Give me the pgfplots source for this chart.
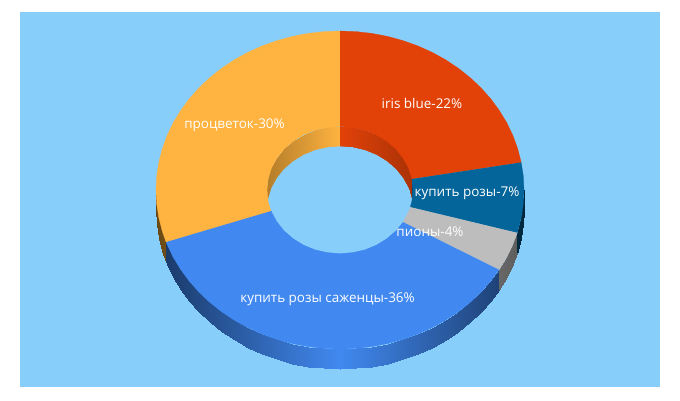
\documentclass[border=0pt]{standalone}
\usepackage{pgfplots}
\usepackage{fontspec}
\setmainfont{Open Sans}
\pgfplotsset{compat=1.18}
\definecolor{panel}{RGB}{135,206,250}
\definecolor{cred}{RGB}{226,66,8}
\definecolor{cdark}{RGB}{3,101,154}
\definecolor{cgrey}{RGB}{189,189,189}
\definecolor{cblue}{RGB}{65,137,240}
\definecolor{corange}{RGB}{255,179,64}
\pgfplotsset{
 colormap={mblue}{rgb255=(65,137,240) rgb255=(25,55,100)},
 colormap={morange}{rgb255=(255,179,64) rgb255=(105,72,20)},
 colormap={mgrey}{rgb255=(189,189,189) rgb255=(90,90,90)},
 colormap={mdark}{rgb255=(3,101,154) rgb255=(1,40,62)},
 colormap={mred}{rgb255=(226,66,8) rgb255=(113,33,4)},
}
\begin{document}
\begin{tikzpicture}
\begin{axis}[scale only axis,width=510pt,height=300pt,hide axis,
 xmin=0,xmax=680,ymin=0,ymax=400,y dir=reverse,enlargelimits=false,clip=true,
 point meta min=0,point meta max=1]
\addplot[fill=white,draw=none] coordinates {(0,0)(680,0)(680,400)(0,400)};
\addplot[fill=panel,draw=none] coordinates {(20,12)(660,12)(660,387)(20,387)};
% outer side: orange
\addplot[patch,patch type=rectangle,shader=interp,point meta=explicit,colormap name=morange] coordinates {
(166,241.8)[.946] (167.1,244.4)[.94] (167.1,264.4)[.94] (166,261.8)[.946]
(166,241.8)[.946] (162.3,231.2)[.966] (162.3,251.2)[.966] (166,261.8)[.946]
(162.3,231.2)[.966] (158.8,217.6)[.985] (158.8,237.6)[.985] (162.3,251.2)[.966]
(158.8,217.6)[.985] (156.7,203.9)[.996] (156.7,223.9)[.996] (158.8,237.6)[.985]
(156.7,203.9)[.996] (156,190)[1] (156,210)[1] (156.7,223.9)[.996]
};
% outer side: blue
\addplot[patch,patch type=rectangle,shader=interp,point meta=explicit,colormap name=mblue] coordinates {
(499.3,269.5)[.866] (490.7,281.2)[.819] (490.7,301.2)[.819] (499.3,289.5)[.866]
(490.7,281.2)[.819] (480.9,292.2)[.766] (480.9,312.2)[.766] (490.7,301.2)[.819]
(480.9,292.2)[.766] (470.1,302.4)[.707] (470.1,322.4)[.707] (480.9,312.2)[.766]
(470.1,302.4)[.707] (458.3,311.8)[.643] (458.3,331.8)[.643] (470.1,322.4)[.707]
(458.3,311.8)[.643] (445.5,320.3)[.574] (445.5,340.3)[.574] (458.3,331.8)[.643]
(445.5,320.3)[.574] (432,327.7)[.5] (432,347.7)[.5] (445.5,340.3)[.574]
(432,327.7)[.5] (417.8,334.1)[.423] (417.8,354.1)[.423] (432,347.7)[.5]
(417.8,334.1)[.423] (402.9,339.4)[.342] (402.9,359.4)[.342] (417.8,354.1)[.423]
(402.9,339.4)[.342] (387.6,343.6)[.259] (387.6,363.6)[.259] (402.9,359.4)[.342]
(387.6,343.6)[.259] (371.9,346.6)[.174] (371.9,366.6)[.174] (387.6,363.6)[.259]
(371.9,346.6)[.174] (356,348.4)[.087] (356,368.4)[.087] (371.9,366.6)[.174]
(356,348.4)[.087] (340,349)[0] (340,369)[0] (356,368.4)[.087]
(340,349)[0] (324,348.4)[.087] (324,368.4)[.087] (340,369)[0]
(324,348.4)[.087] (308.1,346.6)[.174] (308.1,366.6)[.174] (324,368.4)[.087]
(308.1,346.6)[.174] (292.4,343.6)[.259] (292.4,363.6)[.259] (308.1,366.6)[.174]
(292.4,343.6)[.259] (277.1,339.4)[.342] (277.1,359.4)[.342] (292.4,363.6)[.259]
(277.1,339.4)[.342] (262.2,334.1)[.423] (262.2,354.1)[.423] (277.1,359.4)[.342]
(262.2,334.1)[.423] (248,327.7)[.5] (248,347.7)[.5] (262.2,354.1)[.423]
(248,327.7)[.5] (234.5,320.3)[.574] (234.5,340.3)[.574] (248,347.7)[.5]
(234.5,320.3)[.574] (221.7,311.8)[.643] (221.7,331.8)[.643] (234.5,340.3)[.574]
(221.7,311.8)[.643] (209.9,302.4)[.707] (209.9,322.4)[.707] (221.7,331.8)[.643]
(209.9,302.4)[.707] (199.1,292.2)[.766] (199.1,312.2)[.766] (209.9,322.4)[.707]
(199.1,292.2)[.766] (189.3,281.2)[.819] (189.3,301.2)[.819] (199.1,312.2)[.766]
(189.3,281.2)[.819] (180.7,269.5)[.866] (180.7,289.5)[.866] (189.3,301.2)[.819]
(180.7,269.5)[.866] (173.2,257.2)[.906] (173.2,277.2)[.906] (180.7,289.5)[.866]
(173.2,257.2)[.906] (167.1,244.4)[.94] (167.1,264.4)[.94] (173.2,277.2)[.906]
(167.1,244.4)[.94] (166,241.8)[.946] (166,261.8)[.946] (167.1,264.4)[.94]
};
% outer side: grey
\addplot[patch,patch type=rectangle,shader=interp,point meta=explicit,colormap name=mgrey] coordinates {
(517.2,232.8)[.963] (512.9,244.4)[.94] (512.9,264.4)[.94] (517.2,252.8)[.963]
(512.9,244.4)[.94] (506.8,257.2)[.906] (506.8,277.2)[.906] (512.9,264.4)[.94]
(506.8,257.2)[.906] (499.3,269.5)[.866] (499.3,289.5)[.866] (506.8,277.2)[.906]
};
% outer side: dark blue
\addplot[patch,patch type=rectangle,shader=interp,point meta=explicit,colormap name=mdark] coordinates {
(524,190)[1] (523.3,203.9)[.996] (523.3,223.9)[.996] (524,210)[1]
(523.3,203.9)[.996] (521.2,217.6)[.985] (521.2,237.6)[.985] (523.3,223.9)[.996]
(521.2,217.6)[.985] (517.7,231.2)[.966] (517.7,251.2)[.966] (521.2,237.6)[.985]
(517.7,231.2)[.966] (517.2,232.8)[.963] (517.2,252.8)[.963] (517.7,251.2)[.966]
};
% inner wall: orange
\addplot[patch,patch type=rectangle,shader=interp,point meta=explicit,colormap name=morange] coordinates {
(267,190)[.5] (268.1,179)[.492] (268.1,199)[.492] (267,210)[.5]
(268.1,179)[.492] (271.4,168.2)[.47] (271.4,188.2)[.47] (268.1,199)[.492]
(271.4,168.2)[.47] (276.8,158.2)[.433] (276.8,178.2)[.433] (271.4,188.2)[.47]
(276.8,158.2)[.433] (284.1,149.1)[.383] (284.1,169.1)[.383] (276.8,178.2)[.433]
(284.1,149.1)[.383] (293.1,141.3)[.321] (293.1,161.3)[.321] (284.1,169.1)[.383]
(293.1,141.3)[.321] (303.5,134.9)[.25] (303.5,154.9)[.25] (293.1,161.3)[.321]
(303.5,134.9)[.25] (315,130.2)[.171] (315,150.2)[.171] (303.5,154.9)[.25]
(315,130.2)[.171] (327.3,127.4)[.087] (327.3,147.4)[.087] (315,150.2)[.171]
(327.3,127.4)[.087] (340,126.4)[0] (340,146.4)[0] (327.3,147.4)[.087]
};
% inner wall: red
\addplot[patch,patch type=rectangle,shader=interp,point meta=explicit,colormap name=mred] coordinates {
(340,126.4)[0] (352.7,127.4)[.087] (352.7,147.4)[.087] (340,146.4)[0]
(352.7,127.4)[.087] (365,130.2)[.171] (365,150.2)[.171] (352.7,147.4)[.087]
(365,130.2)[.171] (376.5,134.9)[.25] (376.5,154.9)[.25] (365,150.2)[.171]
(376.5,134.9)[.25] (386.9,141.3)[.321] (386.9,161.3)[.321] (376.5,154.9)[.25]
(386.9,141.3)[.321] (395.9,149.1)[.383] (395.9,169.1)[.383] (386.9,161.3)[.321]
(395.9,149.1)[.383] (403.2,158.2)[.433] (403.2,178.2)[.433] (395.9,169.1)[.383]
(403.2,158.2)[.433] (408.6,168.2)[.47] (408.6,188.2)[.47] (403.2,178.2)[.433]
(408.6,168.2)[.47] (411.9,179)[.492] (411.9,199)[.492] (408.6,188.2)[.47]
};
% inner wall: dark blue sliver
\addplot[patch,patch type=rectangle,shader=interp,point meta=explicit,colormap name=mdark] coordinates {
(411.9,179)[.492] (413,190)[.5] (413,210)[.5] (411.9,199)[.492]
};
% hole floor: rim shifted down by the depth
\addplot[fill=panel,draw=none] coordinates {
(340,146.4)(352.7,147.4)(365,150.2)(376.5,154.9)(386.9,161.3)(395.9,169.1)(403.2,178.2)(408.6,188.2)(411.9,199)(413,210)
(411.9,221)(408.6,231.8)(403.2,241.8)(395.9,250.9)(386.9,258.7)(376.5,265.1)(365,269.8)(352.7,272.6)(340,273.6)
(327.3,272.6)(315,269.8)(303.5,265.1)(293.1,258.7)(284.1,250.9)(276.8,241.8)(271.4,231.8)(268.1,221)(267,210)
(268.1,199)(271.4,188.2)(276.8,178.2)(284.1,169.1)(293.1,161.3)(303.5,154.9)(315,150.2)(327.3,147.4)};
% top faces
\addplot[fill=cblue,draw=cblue,line width=.2pt] coordinates {
(403.2,221.8)(499.3,269.5)(490.7,281.2)(480.9,292.2)(470.1,302.4)(458.3,311.8)(445.5,320.3)(432,327.7)(417.8,334.1)(402.9,339.4)(387.6,343.6)(371.9,346.6)(356,348.4)(340,349)
(324,348.4)(308.1,346.6)(292.4,343.6)(277.1,339.4)(262.2,334.1)(248,327.7)(234.5,320.3)(221.7,311.8)(209.9,302.4)(199.1,292.2)(189.3,281.2)(180.7,269.5)(173.2,257.2)(167.1,244.4)(166,241.8)
(271,210.7)(271.4,211.8)(276.8,221.8)(284.1,230.9)(293.1,238.7)(303.5,245.1)(315,249.8)(327.3,252.6)(340,253.6)(352.7,252.6)(365,249.8)(376.5,245.1)(386.9,238.7)(395.9,230.9)};
\addplot[fill=corange,draw=corange,line width=.2pt] coordinates {
(271,210.7)(166,241.8)(162.3,231.2)(158.8,217.6)(156.7,203.9)(156,190)(156.7,176.1)(158.8,162.4)(162.3,148.8)(167.1,135.6)(173.2,122.8)(180.7,110.5)(189.3,98.8)(199.1,87.8)(209.9,77.6)(221.7,68.2)(234.5,59.7)(248,52.3)(262.2,45.9)(277.1,40.6)(292.4,36.4)(308.1,33.4)(324,31.6)(340,31)
(340,126.4)(327.3,127.4)(315,130.2)(303.5,134.9)(293.1,141.3)(284.1,149.1)(276.8,158.2)(271.4,168.2)(268.1,179)(267,190)(268.1,201)};
\addplot[fill=cred,draw=cred,line width=.2pt] coordinates {
(340,31)(356,31.6)(371.9,33.4)(387.6,36.4)(402.9,40.6)(417.8,45.9)(432,52.3)(445.5,59.7)(458.3,68.2)(470.1,77.6)(480.9,87.8)(490.7,98.8)(499.3,110.5)(506.8,122.8)(512.9,135.6)(517.7,148.8)(521.2,162.4)
(411.9,179)(408.6,168.2)(403.2,158.2)(395.9,149.1)(386.9,141.3)(376.5,134.9)(365,130.2)(352.7,127.4)(340,126.4)};
\addplot[fill=cdark,draw=cdark,line width=.2pt] coordinates {
(521.2,162.4)(523.3,176.1)(524,190)(523.3,203.9)(521.2,217.6)(517.7,231.2)(517.2,232.8)(410.3,207.1)(411.9,201)(413,190)(411.9,179)};
\addplot[fill=cgrey,draw=cgrey,line width=.2pt] coordinates {
(517.2,232.8)(512.9,244.4)(506.8,257.2)(499.3,269.5)(403.2,221.8)(408.6,211.8)(410.3,207.1)};
\node[white,font=\fontsize{10.1pt}{12pt}\selectfont] at (axis cs:422,103.5) {iris blue-22\%};
\node[white,font=\fontsize{10.1pt}{12pt}\selectfont] at (axis cs:467,193.5) {купить розы-7\%};
\node[white,font=\fontsize{10.1pt}{12pt}\selectfont] at (axis cs:430,231.5) {пионы-4\%};
\node[white,font=\fontsize{10.1pt}{12pt}\selectfont] at (axis cs:327.5,299.5) {купить розы саженцы-36\%};
\node[white,font=\fontsize{10.1pt}{12pt}\selectfont] at (axis cs:234.5,125.5) {процветок-30\%};
\end{axis}
\end{tikzpicture}
\end{document}
